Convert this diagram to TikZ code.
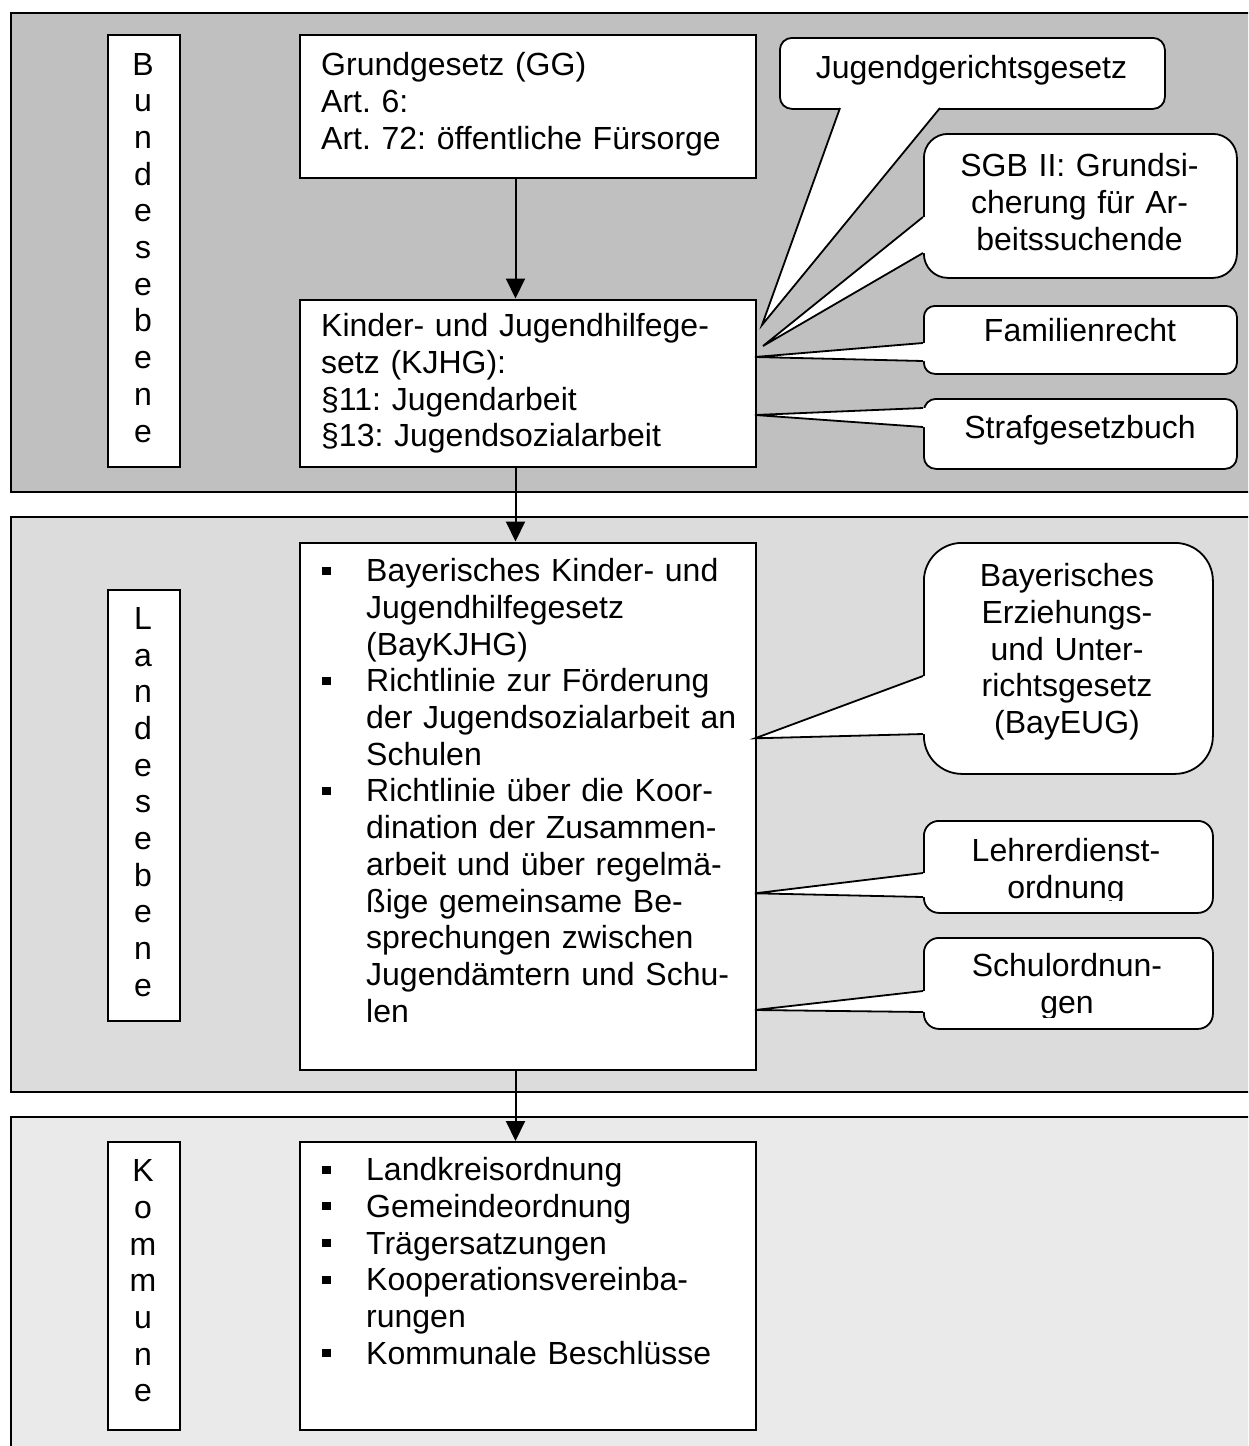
\documentclass[tikz,border=0pt]{standalone}
\usepackage{fontspec}
\setmainfont{Liberation Sans}
\usetikzlibrary{arrows.meta}
\frenchspacing
\definecolor{bundfill}{HTML}{C0C0C0}
\definecolor{landfill}{HTML}{DCDCDC}
\definecolor{kommfill}{HTML}{EAEAEA}
% square list bullet hanging left of the text column
\newcommand\bul{\leavevmode\llap{\rule[7pt]{9pt}{8pt}\hspace{35pt}}}
% white wedge of a callout leaving its left edge at x=923
\newcommand\wedgeleft[3]{%
  \fill[white] (#1) -- (923,#2) -- (926,#2) -- (926,#3) -- (923,#3) -- cycle;
  \draw[wedgeline] (923,#2) -- (#1) -- (923,#3);}
\begin{document}
\begin{tikzpicture}[x=1pt,y=-1pt,
  panel/.style={draw=black,line width=2pt},
  box/.style={draw=black,fill=white,line width=2pt,inner sep=0pt,anchor=north west},
  callout/.style={draw=black,fill=white,line width=1.8pt,inner sep=0pt,anchor=north west},
  wedgeline/.style={draw=black,line width=1.8pt},
  body/.style={inner sep=0pt,font=\fontsize{32}{36.7}\selectfont,text width=#1},
  lefttext/.style={body=430pt,align=left,anchor=base west},
  midtext/.style={body=#1,align=center,anchor=base},
  arr/.style={line width=2pt,-{Triangle[length=20pt,width=19pt]}}]
\clip (0,0) rectangle (1248,1446);

% three level panels
\draw[panel,fill=bundfill] (11,13) rectangle (1262,492);
\draw[panel,fill=landfill] (11,517) rectangle (1262,1092);
\draw[panel,fill=kommfill] (11,1117) rectangle (1262,1470);

% level labels, one letter per line
\node[box,minimum width=72pt,minimum height=432pt] (lbund) at (107,34) {};
\node[midtext=40pt] (lbundt) at (143,75) {B\\u\\n\\d\\e\\s\\e\\b\\e\\n\\e};
\node[box,minimum width=72pt,minimum height=431pt] (lland) at (107,589) {};
\node[midtext=40pt] (llandt) at (143,629.3) {L\\a\\n\\d\\e\\s\\e\\b\\e\\n\\e};
\node[box,minimum width=72pt,minimum height=288pt] (lkomm) at (107,1141) {};
\node[midtext=40pt] (lkommt) at (143,1181.7) {K\\o\\m\\m\\u\\n\\e};

% main column
\node[box,minimum width=456pt,minimum height=143pt] (gg) at (299,34) {};
\node[lefttext] (ggt) at (321,75.7) {Grundgesetz (GG)\\Art. 6:\\Art. 72: öffentliche Fürsorge};
\node[box,minimum width=456pt,minimum height=167pt] (kjhg) at (299,298.5) {};
\node[lefttext] (kjhgt) at (321,336.7) {Kinder- und Jugendhilfege-\\setz (KJHG):\\§11: Jugendarbeit\\§13: Jugendsozialarbeit};
\node[box,minimum width=456pt,minimum height=527pt] (bay) at (299,541.5) {};
\node[lefttext] (bayt) at (366,581.7) {\bul Bayerisches Kinder- und\\
Jugendhilfegesetz\\
(BayKJHG)\\
\bul Richtlinie zur Förderung\\
der Jugendsozialarbeit an\\
Schulen\\
\bul Richtlinie über die Koor-\\
dination der Zusammen-\\
arbeit und über regelmä-\\
ßige gemeinsame Be-\\
sprechungen zwischen\\
Jugendämtern und Schu-\\
len};
\node[box,minimum width=456pt,minimum height=288pt] (komm) at (299,1141) {};
\node[lefttext] (kommt) at (366,1180.7) {\bul Landkreisordnung\\
\bul Gemeindeordnung\\
\bul Trägersatzungen\\
\bul Kooperationsvereinba-\\
rungen\\
\bul Kommunale Beschlüsse};

% downward arrows between the levels
\coordinate (axis) at (515.5,0);
\draw[arr] (gg.south -| axis) -- (kjhg.north -| axis);
\draw[arr] (kjhg.south -| axis) -- (bay.north -| axis);
\draw[arr] (bay.south -| axis) -- (komm.north -| axis);

% federal callouts
\coordinate (jggtip) at (762,325);
\coordinate (sgbtip) at (763,346);
\coordinate (famtip) at (755,357);
\coordinate (strtip) at (755,415);
\node[callout,rounded corners=12pt,minimum width=385pt,minimum height=71pt] (jgg) at (779,37) {};
\fill[white] (jggtip) -- (840,108) -- (840,105) -- (940,105) -- (940,108) -- cycle;
\draw[wedgeline] (840,108) -- (jggtip) -- (940,108);
\node[midtext=360pt] (jggt) at (971.5,78.3) {Jugendgerichtsgesetz};

\node[callout,rounded corners=24pt,minimum width=313pt,minimum height=144pt] (sgb) at (923,133) {};
\wedgeleft{sgbtip}{217}{253}
\node[midtext=300pt] (sgbt) at (1079.5,176.7) {SGB II: Grundsi-\\cherung für Ar-\\beitssuchende};

\node[callout,rounded corners=11pt,minimum width=313pt,minimum height=68pt] (fam) at (923,305) {};
\wedgeleft{famtip}{343}{361}
\node[midtext=300pt] (famt) at (1080,341.7) {Familienrecht};

\node[callout,rounded corners=12pt,minimum width=313pt,minimum height=70pt] (str) at (923,398) {};
\wedgeleft{strtip}{408}{427}
\node[midtext=300pt] (strt) at (1080,438.3) {Strafgesetzbuch};

% state level callouts
\coordinate (eugtip) at (755,738.3);
\coordinate (ldotip) at (755,893.3);
\coordinate (schtip) at (755,1010);
\node[callout,rounded corners=38pt,minimum width=289pt,minimum height=231pt] (eug) at (923,542) {};
\wedgeleft{eugtip}{676}{734}
\node[midtext=280pt] (eugt) at (1067,586.7) {Bayerisches\\Erziehungs-\\und Unter-\\richtsgesetz\\(BayEUG)};

\node[callout,rounded corners=15pt,minimum width=289pt,minimum height=92pt] (ldo) at (923,820) {};
\wedgeleft{ldotip}{873}{897}
\begin{scope}
\clip (923,820) rectangle (1212,900);
\node[midtext=280pt] (ldot) at (1066,861.5) {Lehrerdienst-\\ordnung};
\end{scope}

\node[callout,rounded corners=15pt,minimum width=289pt,minimum height=91pt] (sch) at (923,937) {};
\wedgeleft{schtip}{991}{1012}
\begin{scope}
\clip (923,937) rectangle (1212,1017);
\node[midtext=280pt] (scht) at (1067,976.7) {Schulordnun-\\gen};
\end{scope}
\end{tikzpicture}
\end{document}
